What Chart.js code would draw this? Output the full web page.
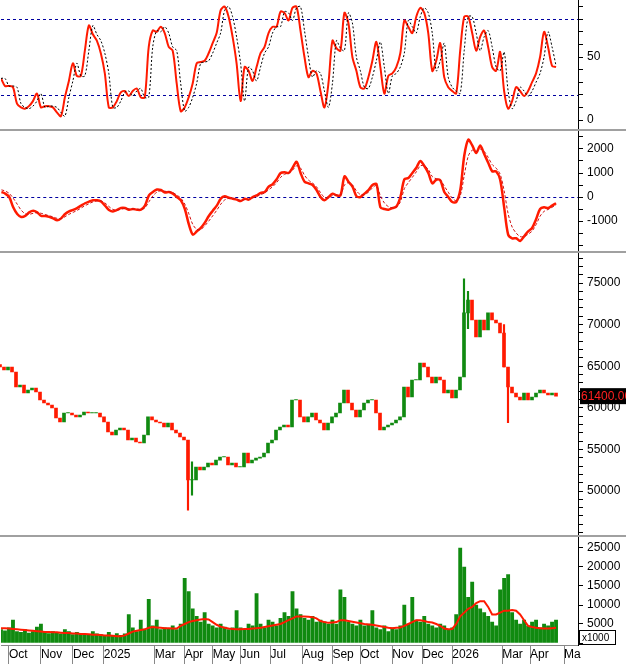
<!DOCTYPE html>
<html><head><meta charset="utf-8">
<script src="https://cdn.jsdelivr.net/npm/chart.js@4"></script>
<style>
html,body{margin:0;padding:0;background:#fff;width:626px;height:664px;overflow:hidden;font-family:"Liberation Sans",Arial,sans-serif}
.p{position:absolute;left:0;width:626px;overflow:hidden}
.w{position:absolute;left:0;width:626px;top:-20px}
.sep{position:absolute;left:0;width:626px;height:2px;background:#a0a0a0;z-index:5}
</style></head><body>
<div class="p" style="top:0;height:130px"><div class="w" style="height:170px"><canvas id="c1"></canvas></div></div>
<div class="sep" style="top:129px"></div>
<div class="p" style="top:131px;height:121px"><div class="w" style="height:161px"><canvas id="c2"></canvas></div></div>
<div class="sep" style="top:251px"></div>
<div class="p" style="top:253px;height:283px"><div class="w" style="height:323px"><canvas id="c3"></canvas></div></div>
<div class="sep" style="top:535px"></div>
<div class="p" style="top:537px;height:127px"><div class="w" style="height:147px"><canvas id="c4"></canvas></div></div>
<script>
const rsi=[33,27,27,26,13,10,9,11,15,21,10,11,11,10,6,3,18,31,45,35,35,55,75,68,63,53,37,10,10,15,22,23,19,23,25,18,18,58,71,70,74,69,58,55,29,7,10,18,29,45,46,47,53,61,69,87,90,82,66,45,15,42,39,31,42,53,58,69,74,74,86,85,79,89,90,71,50,34,39,37,23,10,29,63,57,55,85,77,50,39,26,25,34,47,62,42,21,35,37,42,53,79,74,69,82,89,85,69,39,47,61,34,26,23,21,55,82,82,69,55,66,71,58,42,39,54,23,9,15,26,23,19,23,30,37,50,70,58,43,42];
const rsiSig=[33,33,27,27,26,13,10,9,11,15,21,10,11,11,10,6,3,18,31,45,35,35,55,75,68,63,53,37,10,10,15,22,23,19,23,25,18,18,58,71,70,74,69,58,55,29,7,10,18,29,45,46,47,53,61,69,87,90,82,66,45,15,42,39,31,42,53,58,69,74,74,86,85,79,89,90,71,50,34,39,37,23,10,29,63,57,55,85,77,50,39,26,25,34,47,62,42,21,35,37,42,53,79,74,69,82,89,85,69,39,47,61,34,26,23,21,55,82,82,69,55,66,71,58,42,39,54,23,9,15,26,23,19,23,30,37,50,70,58,43];
const macd=[210,140,0,-430,-710,-830,-790,-640,-570,-640,-790,-790,-830,-890,-970,-890,-710,-600,-540,-460,-360,-260,-190,-140,-140,-190,-360,-540,-600,-540,-460,-460,-530,-500,-530,-530,-360,70,210,310,290,190,210,140,0,-140,-500,-1140,-1570,-1430,-1290,-1070,-790,-570,-360,-70,30,-30,-70,-110,-170,-70,-110,0,70,170,210,430,540,740,1000,1030,1000,1220,1470,1000,640,570,500,290,0,-140,0,140,70,70,860,640,430,30,0,140,290,500,540,-430,-500,-530,-460,-400,0,740,790,1000,1220,1500,1290,1000,570,720,690,210,0,-210,-210,290,1720,2390,2150,1830,2150,1790,1430,1070,1070,720,-430,-1570,-1720,-1720,-1830,-1640,-1430,-1290,-930,-500,-430,-460,-360,-260];
const macdSig=[300,250,150,-50,-300,-550,-700,-720,-680,-650,-680,-730,-780,-830,-890,-900,-820,-720,-640,-560,-460,-360,-280,-200,-160,-160,-250,-400,-520,-550,-510,-480,-500,-500,-510,-520,-450,-200,50,200,260,240,220,180,80,-50,-300,-700,-1150,-1350,-1350,-1200,-1000,-780,-550,-300,-120,-60,-60,-90,-140,-110,-100,-40,20,100,170,300,430,600,820,950,1000,1120,1300,1200,900,700,580,420,180,-20,-40,60,80,80,500,600,500,250,100,100,200,380,480,50,-250,-400,-450,-420,-200,350,600,820,1050,1300,1300,1150,850,760,720,450,200,-50,-150,50,900,1700,1950,1900,2000,1900,1650,1350,1200,950,250,-700,-1250,-1500,-1650,-1650,-1550,-1420,-1150,-800,-600,-520,-430,-330];
const closes=[64900,64540,64900,64300,62500,62740,61780,62140,62380,61900,60940,60580,60340,59980,58770,58290,59380,59380,59140,58900,59140,59500,59380,59380,59380,58900,58290,57090,56730,57330,57570,57330,56130,56370,55890,55770,56730,58900,58530,58290,58170,57690,58170,57330,56970,56490,56130,51320,51320,52880,52520,52880,53360,53120,53720,54090,54090,53120,53360,52880,52880,54570,53360,53720,53960,54090,54570,55770,56130,57330,57690,57930,57690,60940,60940,58900,58290,58900,59380,58530,58170,57330,58170,58900,59380,60580,62140,60580,59740,58900,59740,60580,60940,60940,59380,57330,57690,57930,58170,58530,58900,62500,61300,63340,63340,65380,64900,63700,62980,63700,63340,61780,62140,61180,62140,63700,71400,72950,70550,68510,70550,69350,71400,70550,70190,68990,64900,62500,61780,61300,60940,61780,60940,61300,61780,62140,61780,61540,61780,61400];
const firstOpen=65200;
const wickIdx=[47,48,116,117,126,127];
const wickLo=[47700,49500,68500,69500,64900,58200];
const wickHi=[55000,53500,75500,74000,70000,63000];
const vol=[3500,3200,4000,6000,3000,2800,3500,2600,3000,4200,5000,2800,2500,3000,2600,2400,3500,3000,2200,2800,2500,2000,2300,3000,2400,2200,2000,2800,1800,2500,2000,2400,7500,4000,3000,6000,3500,11500,4500,6000,3500,4000,3800,4500,3500,5000,17000,13500,9000,7000,5500,8000,5000,4500,4000,5000,4200,3500,4000,8500,4000,3500,5000,4500,13000,5000,4000,6000,5500,4500,6500,8000,7000,13500,9000,7500,6500,6000,7000,5500,6000,5500,5000,6000,5000,14000,12000,5500,5000,4500,6000,4500,5000,8500,4000,3500,4500,3000,4000,3500,4500,10000,5000,12000,6000,5500,7000,5000,4500,4000,5000,4500,3500,4000,7500,25000,20000,12000,16000,10000,9000,8000,7000,5500,4500,14000,17000,18000,8000,6000,5000,6000,4500,5500,6000,4000,5000,4500,5500,6000];
const volMA=[3900,3900,3800,3700,3600,3500,3400,3300,3200,3100,3000,2900,2900,2800,2800,2700,2600,2600,2500,2500,2400,2400,2300,2200,2200,2100,2000,2000,1900,1800,1800,2000,2500,3000,3200,3400,3600,4000,4200,4100,4000,3900,3900,3800,3800,4500,5000,5500,5800,6000,6200,6300,6200,5500,4800,4300,4000,3800,3700,3600,3600,3700,3700,3800,3900,4000,4200,4400,4600,4800,5000,5500,6000,6500,7000,7000,7000,6900,6800,6500,5800,5500,5300,5400,5500,6000,6000,5800,5600,5400,5200,5000,4900,4800,4600,4400,4200,4000,3900,4000,4100,4500,5000,5500,6000,6000,5800,5500,5400,5000,4500,3800,3600,3700,5000,7000,8000,9000,9500,10500,11000,11000,9500,7500,7500,8000,8500,8500,8700,8500,7500,6000,4500,4200,4000,3900,3800,3800,3900,4000];
const monthPos=[2,10,18,25.75,38.5,46,53,60,67.5,75.5,83,90,98,105.5,113,125.5,132.5,141];
const monthLbl=['Oct','Nov','Dec','2025','Mar','Apr','May','Jun','Jul','Aug','Sep','Oct','Nov','Dec','2026','Mar','Apr','Ma'];

const XMAX=144.5, AXW=48;
const font={family:'"Liberation Sans", Arial, sans-serif',size:12};
function xScale(show){
  return {type:'linear',min:0,max:XMAX,display:show,offset:false,
    afterBuildTicks:s=>{s.ticks=monthPos.map(v=>({value:v}));},
    afterFit:s=>{s.height=19;},
    grid:{drawOnChartArea:false,drawTicks:true,tickLength:19,color:'#888',offset:false},
    border:{color:'#888'},
    ticks:{autoSkip:false,maxRotation:0,align:'start',padding:-17,color:'#000',font,
      callback:(v,i)=>monthLbl[i]}};
}
function yScale(min,max,step,show){
  return {position:'right',min,max,afterFit:s=>{s.width=AXW;},
    afterBuildTicks:s=>{const t=[];const mn=s.min,mx=s.max;for(let v=Math.ceil(mn/step)*step;v<=mx;v+=step)t.push({value:v});s.ticks=t;},
    grid:{drawOnChartArea:false,tickLength:5,color:'#000'},border:{color:'#000'},
    ticks:{autoSkip:false,color:'#000',font,padding:4,callback:v=>show(v)?String(v):''}};
}
function hlines(vals){
  return {id:'hl',beforeDatasetsDraw(c){const ctx=c.ctx,a=c.chartArea,y=c.scales.y;
    ctx.save();ctx.strokeStyle='#0000a0';ctx.lineWidth=1;ctx.setLineDash([3,3]);
    vals.forEach(v=>{const p=Math.round(y.getPixelForValue(v))+0.5;ctx.beginPath();ctx.moveTo(a.left,p);ctx.lineTo(a.right,p);ctx.stroke();});
    ctx.restore();}};
}
function fit(chart,top,valueAt){
  const a=chart.chartArea;
  chart.options.scales.y.min=valueAt(top+a.bottom);
  chart.options.scales.y.max=valueAt(top+a.top);
  chart.update('none');
}
const base={responsive:true,maintainAspectRatio:false,animation:false,events:[],
  layout:{padding:0},plugins:{legend:{display:false},tooltip:{enabled:false}}};
const pts=a=>a.map((v,i)=>({x:i,y:v}));

const ch1=new Chart(document.getElementById('c1'),{type:'line',
  data:{datasets:[
    {data:pts(rsiSig),borderColor:'#000',borderWidth:1,borderDash:[2,2],pointRadius:0,tension:0.3},
    {data:pts(rsi),borderColor:'#ff1a00',borderWidth:2,pointRadius:0,tension:0.3}]},
  options:{...base,scales:{x:xScale(false),y:yScale(-20,110,10,v=>v===0||v===50)}},
  plugins:[hlines([80,20])]});
fit(ch1,-20,y=>(120-y)/1.26);

const ch2=new Chart(document.getElementById('c2'),{type:'line',
  data:{datasets:[
    {data:pts(macdSig),borderColor:'#d01010',borderWidth:1,borderDash:[3,2],pointRadius:0,tension:0.3},
    {data:pts(macd),borderColor:'#ff1a00',borderWidth:2.5,pointRadius:0,tension:0.3}]},
  options:{...base,scales:{x:xScale(false),y:yScale(-3000,3500,500,v=>v%1000===0&&v>=-1000&&v<=2000)}},
  plugins:[hlines([0])]});
fit(ch2,111,y=>(197-y)/0.024);

const bodies=closes.map((c,i)=>{const o=i?closes[i-1]:firstOpen;const lo=Math.min(o,c),hi=Math.max(o,c);return {x:i,y:[lo,hi===lo?hi+60:hi]};});
const bodyCol=closes.map((c,i)=>c>=(i?closes[i-1]:firstOpen)?'#108a10':'#ff1a00');
const wicks=wickIdx.map((k,j)=>({x:k,y:[wickLo[j],wickHi[j]]}));
const priceBox={id:'pb',afterDraw(c){const ctx=c.ctx,y=c.scales.y,a=c.chartArea;const last=closes[closes.length-1];
  const p=y.getPixelForValue(last);ctx.save();ctx.fillStyle='#000';ctx.fillRect(a.right+2,p-8,50,16);
  ctx.fillStyle='#ff2020';ctx.font='12px "Liberation Sans", Arial';ctx.textBaseline='middle';ctx.fillText(last.toFixed(2),a.right+3,p+1);ctx.restore();}};
const ch3=new Chart(document.getElementById('c3'),{type:'bar',
  data:{datasets:[
    {data:wicks,backgroundColor:bodyCol.filter((_,i)=>wickIdx.includes(i)),barThickness:1.5,grouped:false},
    {data:bodies,backgroundColor:bodyCol,barThickness:3,grouped:false}]},
  options:{...base,scales:{x:xScale(false),y:yScale(40000,82000,1000,v=>v%5000===0&&v>=50000&&v<=75000)}},
  plugins:[priceBox]});
fit(ch3,233,y=>75000-(y-283)/0.00832);

const volBox={id:'vb',afterDraw(c){const ctx=c.ctx,a=c.chartArea;ctx.save();ctx.strokeStyle='#000';ctx.lineWidth=1;
  ctx.strokeRect(a.right+1.5,a.bottom-14.5,36,14);ctx.fillStyle='#000';ctx.font='10px "Liberation Sans", Arial';ctx.textBaseline='middle';
  ctx.fillText('x1000',a.right+4,a.bottom-7);ctx.restore();}};
const ch4=new Chart(document.getElementById('c4'),{type:'bar',
  data:{datasets:[
    {type:'line',data:pts(volMA),borderColor:'#ff1a00',borderWidth:2,pointRadius:0,order:0},
    {data:pts(vol),backgroundColor:'#108a10',barThickness:3.2,order:1}]},
  options:{...base,scales:{x:xScale(true),y:yScale(-500,32000,5000,v=>v>0&&v<=25000)}},
  plugins:[volBox]});
fit(ch4,517,y=>(643-y)/0.0038);
</script></body></html>
